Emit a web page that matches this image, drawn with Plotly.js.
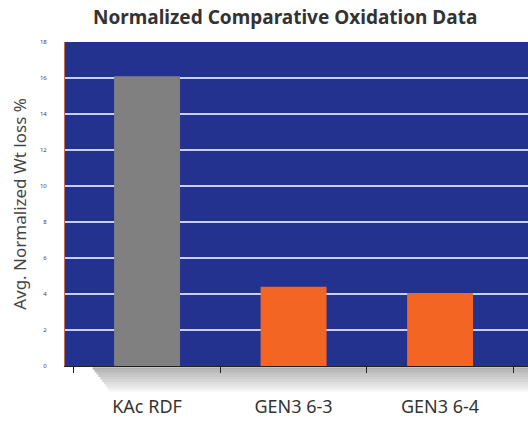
<!DOCTYPE html>
<html>
<head>
<meta charset="utf-8">
<script src="https://cdn.plot.ly/plotly-3.0.1.min.js"></script>
<style>html,body{margin:0;padding:0;background:#fff;}#chart{width:528px;height:422px;}</style>
</head>
<body>
<div id="chart"></div>
<script>
const categories = ["KAc RDF", "GEN3 6-3", "GEN3 6-4"];
const values = [16.1, 4.4, 4.05];
const barColors = ["#808080", "#f26522", "#f26522"];
const yTicks = [0, 2, 4, 6, 8, 10, 12, 14, 16, 18];

const shadowShapes = [];
for (let i = 0; i < 10; i++) {
  shadowShapes.push({
    type: "rect", xref: "paper", yref: "paper",
    x0: 0.06 + i * 0.004, x1: 1,
    y0: -0.004 - i * 0.0075, y1: -0.004 - (i + 1) * 0.0075,
    fillcolor: "rgba(70,70,70," + (0.42 - i * 0.04).toFixed(3) + ")",
    line: {width: 0}, layer: "below"
  });
}

const data = [{
  type: "bar",
  x: categories,
  y: values,
  marker: {color: barColors, line: {width: 0}},
  width: 0.45,
  hoverinfo: "x+y"
}];

const layout = {
  width: 528, height: 422,
  margin: {l: 65, r: 0, t: 42, b: 56},
  paper_bgcolor: "#ffffff",
  plot_bgcolor: "#23318f",
  showlegend: false,
  title: {
    text: "<b>Normalized Comparative Oxidation Data</b>",
    font: {family: "Noto Sans, sans-serif", size: 19, color: "#333333"},
    x: 0.54, xanchor: "center", y: 0.975, yanchor: "top"
  },
  xaxis: {
    type: "category",
    range: [-0.56, 2.6],
    tickson: "boundaries",
    ticks: "outside", ticklen: 6, tickcolor: "#222", tickwidth: 1,
    showline: true, linecolor: "#222", linewidth: 1,
    showgrid: false,
    ticklabelstandoff: 24,
    tickfont: {family: "Noto Sans, sans-serif", size: 18, color: "#333333"}
  },
  yaxis: {
    range: [0, 18],
    tickvals: yTicks,
    ticktext: yTicks.map(String),
    ticks: "",
    ticklabelstandoff: 16,
    showline: true, linecolor: "#c07050", linewidth: 1,
    showgrid: true, gridcolor: "#c9cff5", gridwidth: 2,
    zeroline: false,
    tickfont: {family: "Noto Sans, sans-serif", size: 6, color: "#444"},
    title: {
      text: "Avg. Normalized Wt loss %",
      font: {family: "Noto Sans, sans-serif", size: 17, color: "#444444"},
      standoff: 8
    }
  },
  shapes: shadowShapes
};

Plotly.newPlot("chart", data, layout, {displayModeBar: false, staticPlot: true});
</script>
</body>
</html>
